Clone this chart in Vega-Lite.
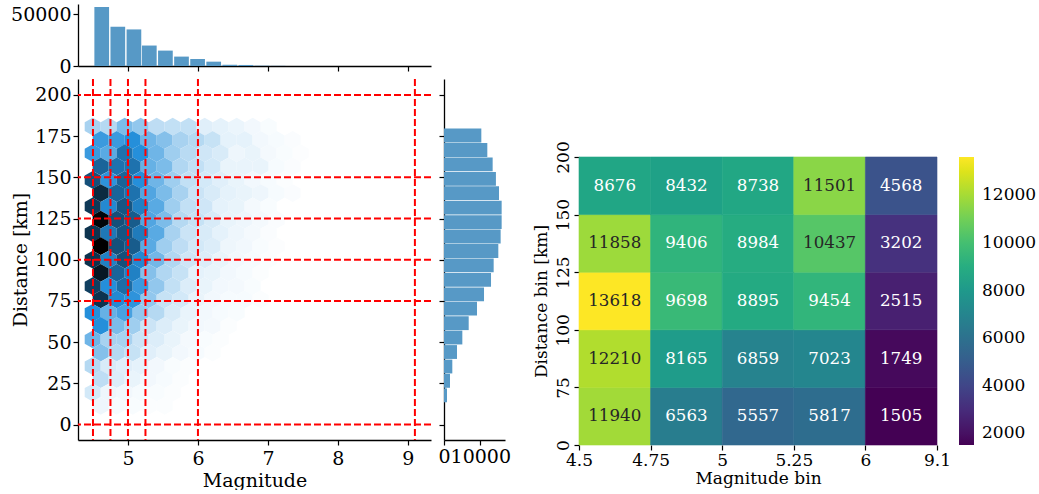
{"$schema":"https://vega.github.io/schema/vega-lite/v6.json","padding":{"left":10,"top":4,"right":0,"bottom":0},"spacing":5,"background":"white",
"config":{"font":"DejaVu Serif","view":{"stroke":null},"axis":{"grid":false,"domainColor":"#000000","tickColor":"#000000","labelColor":"#000000","titleColor":"#000000","labelFontSize":19,"titleFontSize":19,"titleFontWeight":"normal","tickSize":5,"tickWidth":1.2,"domainWidth":1.3,"labelOverlap":false,"labelFlush":false,"labelBound":false}},
"datasets":{
"magBars":[{"lo":4.52,"hi":4.73,"n":57100},{"lo":4.75,"hi":4.96,"n":38000},{"lo":4.98,"hi":5.19,"n":35400},{"lo":5.2,"hi":5.41,"n":19800},{"lo":5.43,"hi":5.64,"n":14900},{"lo":5.66,"hi":5.87,"n":9100},{"lo":5.89,"hi":6.1,"n":6800},{"lo":6.12,"hi":6.33,"n":4200},{"lo":6.35,"hi":6.56,"n":1200},{"lo":6.58,"hi":6.79,"n":1000},{"lo":6.81,"hi":7.02,"n":300},{"lo":7.04,"hi":7.25,"n":150}],
"distBars":[{"lo":171.2,"hi":179.6,"n":10280},{"lo":162.4,"hi":170.8,"n":11930},{"lo":153.7,"hi":162.1,"n":13400},{"lo":144.9,"hi":153.3,"n":14300},{"lo":136.2,"hi":144.6,"n":15150},{"lo":127.4,"hi":135.8,"n":15880},{"lo":118.6,"hi":127,"n":15880},{"lo":109.9,"hi":118.3,"n":15600},{"lo":101.1,"hi":109.5,"n":14960},{"lo":92.4,"hi":100.8,"n":13680},{"lo":83.6,"hi":92,"n":12950},{"lo":74.8,"hi":83.2,"n":11020},{"lo":66.1,"hi":74.5,"n":9090},{"lo":57.3,"hi":65.7,"n":6800},{"lo":48.6,"hi":57,"n":5050},{"lo":39.8,"hi":48.2,"n":3580},{"lo":31,"hi":39.4,"n":2290},{"lo":22.3,"hi":30.7,"n":1650},{"lo":13.5,"hi":21.9,"n":830}],
"magCuts":[{"m":4.5},{"m":4.75},{"m":5},{"m":5.25},{"m":6},{"m":9.1}],
"distCuts":[{"d":0},{"d":75},{"d":100},{"d":125},{"d":150},{"d":200}],
"hex":[
{"m":4.496,"d":180.8,"c":200},{"m":4.725,"d":180.8,"c":170},{"m":4.953,"d":180.8,"c":300},{"m":5.182,"d":180.8,"c":250},{"m":5.41,"d":180.8,"c":150},{"m":5.639,"d":180.8,"c":140},{"m":5.868,"d":180.8,"c":140},{"m":6.096,"d":180.8,"c":70},{"m":6.325,"d":180.8,"c":60},{"m":6.553,"d":180.8,"c":45},{"m":6.782,"d":180.8,"c":30},{"m":7.011,"d":180.8,"c":15},
{"m":4.61,"d":172.7,"c":450},{"m":4.839,"d":172.7,"c":450},{"m":5.067,"d":172.7,"c":500},{"m":5.296,"d":172.7,"c":330},{"m":5.524,"d":172.7,"c":280},{"m":5.753,"d":172.7,"c":200},{"m":5.982,"d":172.7,"c":170},{"m":6.21,"d":172.7,"c":130},{"m":6.439,"d":172.7,"c":60},{"m":6.667,"d":172.7,"c":60},{"m":6.896,"d":172.7,"c":30},{"m":7.125,"d":172.7,"c":20},{"m":7.353,"d":172.7,"c":12},
{"m":4.496,"d":164.7,"c":450},{"m":4.725,"d":164.7,"c":380},{"m":4.953,"d":164.7,"c":600},{"m":5.182,"d":164.7,"c":500},{"m":5.41,"d":164.7,"c":330},{"m":5.639,"d":164.7,"c":220},{"m":5.868,"d":164.7,"c":160},{"m":6.096,"d":164.7,"c":110},{"m":6.325,"d":164.7,"c":90},{"m":6.553,"d":164.7,"c":40},{"m":6.782,"d":164.7,"c":50},{"m":7.011,"d":164.7,"c":25},{"m":7.239,"d":164.7,"c":15},{"m":7.468,"d":164.7,"c":8},
{"m":4.61,"d":156.6,"c":650},{"m":4.839,"d":156.6,"c":600},{"m":5.067,"d":156.6,"c":600},{"m":5.296,"d":156.6,"c":350},{"m":5.524,"d":156.6,"c":300},{"m":5.753,"d":156.6,"c":180},{"m":5.982,"d":156.6,"c":140},{"m":6.21,"d":156.6,"c":100},{"m":6.439,"d":156.6,"c":50},{"m":6.667,"d":156.6,"c":50},{"m":6.896,"d":156.6,"c":50},{"m":7.125,"d":156.6,"c":20},{"m":7.353,"d":156.6,"c":12},
{"m":4.496,"d":148.5,"c":720},{"m":4.725,"d":148.5,"c":480},{"m":4.953,"d":148.5,"c":650},{"m":5.182,"d":148.5,"c":500},{"m":5.41,"d":148.5,"c":330},{"m":5.639,"d":148.5,"c":220},{"m":5.868,"d":148.5,"c":140},{"m":6.096,"d":148.5,"c":100},{"m":6.325,"d":148.5,"c":70},{"m":6.553,"d":148.5,"c":50},{"m":6.782,"d":148.5,"c":30},{"m":7.011,"d":148.5,"c":20},{"m":7.239,"d":148.5,"c":10},
{"m":4.61,"d":140.5,"c":850},{"m":4.839,"d":140.5,"c":650},{"m":5.067,"d":140.5,"c":600},{"m":5.296,"d":140.5,"c":400},{"m":5.524,"d":140.5,"c":300},{"m":5.753,"d":140.5,"c":200},{"m":5.982,"d":140.5,"c":120},{"m":6.21,"d":140.5,"c":90},{"m":6.439,"d":140.5,"c":60},{"m":6.667,"d":140.5,"c":50},{"m":6.896,"d":140.5,"c":40},{"m":7.125,"d":140.5,"c":20},{"m":7.353,"d":140.5,"c":12},
{"m":4.496,"d":132.4,"c":800},{"m":4.725,"d":132.4,"c":520},{"m":4.953,"d":132.4,"c":700},{"m":5.182,"d":132.4,"c":550},{"m":5.41,"d":132.4,"c":380},{"m":5.639,"d":132.4,"c":220},{"m":5.868,"d":132.4,"c":140},{"m":6.096,"d":132.4,"c":110},{"m":6.325,"d":132.4,"c":60},{"m":6.553,"d":132.4,"c":50},{"m":6.782,"d":132.4,"c":25},{"m":7.011,"d":132.4,"c":15},
{"m":4.61,"d":124.3,"c":980},{"m":4.839,"d":124.3,"c":720},{"m":5.067,"d":124.3,"c":680},{"m":5.296,"d":124.3,"c":400},{"m":5.524,"d":124.3,"c":300},{"m":5.753,"d":124.3,"c":170},{"m":5.982,"d":124.3,"c":130},{"m":6.21,"d":124.3,"c":90},{"m":6.439,"d":124.3,"c":50},{"m":6.667,"d":124.3,"c":40},{"m":6.896,"d":124.3,"c":25},{"m":7.125,"d":124.3,"c":12},
{"m":4.496,"d":116.2,"c":820},{"m":4.725,"d":116.2,"c":580},{"m":4.953,"d":116.2,"c":700},{"m":5.182,"d":116.2,"c":570},{"m":5.41,"d":116.2,"c":380},{"m":5.639,"d":116.2,"c":200},{"m":5.868,"d":116.2,"c":120},{"m":6.096,"d":116.2,"c":90},{"m":6.325,"d":116.2,"c":60},{"m":6.553,"d":116.2,"c":40},{"m":6.782,"d":116.2,"c":25},{"m":7.011,"d":116.2,"c":12},
{"m":4.61,"d":108.2,"c":1000},{"m":4.839,"d":108.2,"c":720},{"m":5.067,"d":108.2,"c":680},{"m":5.296,"d":108.2,"c":380},{"m":5.524,"d":108.2,"c":220},{"m":5.753,"d":108.2,"c":150},{"m":5.982,"d":108.2,"c":100},{"m":6.21,"d":108.2,"c":80},{"m":6.439,"d":108.2,"c":40},{"m":6.667,"d":108.2,"c":30},{"m":6.896,"d":108.2,"c":15},{"m":7.125,"d":108.2,"c":8},
{"m":4.496,"d":100.1,"c":820},{"m":4.725,"d":100.1,"c":550},{"m":4.953,"d":100.1,"c":720},{"m":5.182,"d":100.1,"c":520},{"m":5.41,"d":100.1,"c":320},{"m":5.639,"d":100.1,"c":180},{"m":5.868,"d":100.1,"c":110},{"m":6.096,"d":100.1,"c":80},{"m":6.325,"d":100.1,"c":50},{"m":6.553,"d":100.1,"c":30},{"m":6.782,"d":100.1,"c":20},{"m":7.011,"d":100.1,"c":10},
{"m":4.61,"d":92,"c":920},{"m":4.839,"d":92,"c":650},{"m":5.067,"d":92,"c":550},{"m":5.296,"d":92,"c":280},{"m":5.524,"d":92,"c":180},{"m":5.753,"d":92,"c":130},{"m":5.982,"d":92,"c":60},{"m":6.21,"d":92,"c":50},{"m":6.439,"d":92,"c":30},{"m":6.667,"d":92,"c":20},{"m":6.896,"d":92,"c":10},
{"m":4.496,"d":84,"c":780},{"m":4.725,"d":84,"c":500},{"m":4.953,"d":84,"c":620},{"m":5.182,"d":84,"c":450},{"m":5.41,"d":84,"c":250},{"m":5.639,"d":84,"c":140},{"m":5.868,"d":84,"c":80},{"m":6.096,"d":84,"c":50},{"m":6.325,"d":84,"c":30},{"m":6.553,"d":84,"c":25},{"m":6.782,"d":84,"c":15},
{"m":4.61,"d":75.9,"c":820},{"m":4.839,"d":75.9,"c":520},{"m":5.067,"d":75.9,"c":480},{"m":5.296,"d":75.9,"c":250},{"m":5.524,"d":75.9,"c":130},{"m":5.753,"d":75.9,"c":100},{"m":5.982,"d":75.9,"c":50},{"m":6.21,"d":75.9,"c":30},{"m":6.439,"d":75.9,"c":20},{"m":6.667,"d":75.9,"c":20},{"m":6.896,"d":75.9,"c":10},
{"m":4.496,"d":67.8,"c":500},{"m":4.725,"d":67.8,"c":350},{"m":4.953,"d":67.8,"c":420},{"m":5.182,"d":67.8,"c":250},{"m":5.41,"d":67.8,"c":170},{"m":5.639,"d":67.8,"c":90},{"m":5.868,"d":67.8,"c":50},{"m":6.096,"d":67.8,"c":30},{"m":6.325,"d":67.8,"c":20},{"m":6.553,"d":67.8,"c":15},
{"m":4.61,"d":59.8,"c":500},{"m":4.839,"d":59.8,"c":300},{"m":5.067,"d":59.8,"c":220},{"m":5.296,"d":59.8,"c":120},{"m":5.524,"d":59.8,"c":80},{"m":5.753,"d":59.8,"c":50},{"m":5.982,"d":59.8,"c":30},{"m":6.21,"d":59.8,"c":25},{"m":6.439,"d":59.8,"c":10},
{"m":4.496,"d":51.7,"c":330},{"m":4.725,"d":51.7,"c":200},{"m":4.953,"d":51.7,"c":200},{"m":5.182,"d":51.7,"c":120},{"m":5.41,"d":51.7,"c":80},{"m":5.639,"d":51.7,"c":50},{"m":5.868,"d":51.7,"c":25},{"m":6.096,"d":51.7,"c":15},{"m":6.325,"d":51.7,"c":10},
{"m":4.61,"d":43.6,"c":280},{"m":4.839,"d":43.6,"c":170},{"m":5.067,"d":43.6,"c":130},{"m":5.296,"d":43.6,"c":70},{"m":5.524,"d":43.6,"c":50},{"m":5.753,"d":43.6,"c":30},{"m":5.982,"d":43.6,"c":20},{"m":6.21,"d":43.6,"c":10},
{"m":4.496,"d":35.5,"c":170},{"m":4.725,"d":35.5,"c":90},{"m":4.953,"d":35.5,"c":70},{"m":5.182,"d":35.5,"c":60},{"m":5.41,"d":35.5,"c":30},{"m":5.639,"d":35.5,"c":15},{"m":5.868,"d":35.5,"c":10},
{"m":4.61,"d":27.5,"c":150},{"m":4.839,"d":27.5,"c":80},{"m":5.067,"d":27.5,"c":50},{"m":5.296,"d":27.5,"c":30},{"m":5.524,"d":27.5,"c":20},{"m":5.753,"d":27.5,"c":10},
{"m":4.496,"d":19.4,"c":100},{"m":4.725,"d":19.4,"c":40},{"m":4.953,"d":19.4,"c":30},{"m":5.182,"d":19.4,"c":20},{"m":5.41,"d":19.4,"c":15},{"m":5.639,"d":19.4,"c":10},
{"m":4.61,"d":11.3,"c":40},{"m":4.839,"d":11.3,"c":20},{"m":5.067,"d":11.3,"c":15},{"m":5.296,"d":11.3,"c":10},{"m":5.524,"d":11.3,"c":10}
],
"heat":[
{"m0":4.5,"m1":4.75,"mm":4.625,"d0":0,"d1":75,"dm":37.5,"n":11940},{"m0":4.75,"m1":5,"mm":4.875,"d0":0,"d1":75,"dm":37.5,"n":6563},{"m0":5,"m1":5.25,"mm":5.125,"d0":0,"d1":75,"dm":37.5,"n":5557},{"m0":5.25,"m1":6,"mm":5.625,"d0":0,"d1":75,"dm":37.5,"n":5817},{"m0":6,"m1":9.1,"mm":7.55,"d0":0,"d1":75,"dm":37.5,"n":1505},
{"m0":4.5,"m1":4.75,"mm":4.625,"d0":75,"d1":100,"dm":87.5,"n":12210},{"m0":4.75,"m1":5,"mm":4.875,"d0":75,"d1":100,"dm":87.5,"n":8165},{"m0":5,"m1":5.25,"mm":5.125,"d0":75,"d1":100,"dm":87.5,"n":6859},{"m0":5.25,"m1":6,"mm":5.625,"d0":75,"d1":100,"dm":87.5,"n":7023},{"m0":6,"m1":9.1,"mm":7.55,"d0":75,"d1":100,"dm":87.5,"n":1749},
{"m0":4.5,"m1":4.75,"mm":4.625,"d0":100,"d1":125,"dm":112.5,"n":13618},{"m0":4.75,"m1":5,"mm":4.875,"d0":100,"d1":125,"dm":112.5,"n":9698},{"m0":5,"m1":5.25,"mm":5.125,"d0":100,"d1":125,"dm":112.5,"n":8895},{"m0":5.25,"m1":6,"mm":5.625,"d0":100,"d1":125,"dm":112.5,"n":9454},{"m0":6,"m1":9.1,"mm":7.55,"d0":100,"d1":125,"dm":112.5,"n":2515},
{"m0":4.5,"m1":4.75,"mm":4.625,"d0":125,"d1":150,"dm":137.5,"n":11858},{"m0":4.75,"m1":5,"mm":4.875,"d0":125,"d1":150,"dm":137.5,"n":9406},{"m0":5,"m1":5.25,"mm":5.125,"d0":125,"d1":150,"dm":137.5,"n":8984},{"m0":5.25,"m1":6,"mm":5.625,"d0":125,"d1":150,"dm":137.5,"n":10437},{"m0":6,"m1":9.1,"mm":7.55,"d0":125,"d1":150,"dm":137.5,"n":3202},
{"m0":4.5,"m1":4.75,"mm":4.625,"d0":150,"d1":200,"dm":175,"n":8676},{"m0":4.75,"m1":5,"mm":4.875,"d0":150,"d1":200,"dm":175,"n":8432},{"m0":5,"m1":5.25,"mm":5.125,"d0":150,"d1":200,"dm":175,"n":8738},{"m0":5.25,"m1":6,"mm":5.625,"d0":150,"d1":200,"dm":175,"n":11501},{"m0":6,"m1":9.1,"mm":7.55,"d0":150,"d1":200,"dm":175,"n":4568}
]},
"hconcat":[
{"vconcat":[
{"width":353,"height":62,"data":{"name":"magBars"},"mark":{"type":"rect","color":"#5799c6"},
"encoding":{"x":{"field":"lo","type":"quantitative","scale":{"domain":[4.286,9.33],"nice":false,"zero":false},"axis":{"values":[5,6,7,8,9],"labels":false,"title":null}},"x2":{"field":"hi"},"y":{"field":"n","type":"quantitative","scale":{"domain":[0,60000],"nice":false},"axis":{"values":[0,50000],"format":"d","title":null}}}},
{"width":353,"height":361,"layer":[
{"data":{"name":"hex"},"mark":{"type":"point","filled":true,"opacity":1,"strokeWidth":0,"size":256,"shape":"M0,-1.11L1,-0.555L1,0.555L0,1.11L-1,0.555L-1,-0.555Z"},
"encoding":{"x":{"field":"m","type":"quantitative","scale":{"domain":[4.286,9.33],"nice":false,"zero":false},"axis":{"values":[5,6,7,8,9],"format":"d","title":"Magnitude","labelPadding":4,"titlePadding":3}},"y":{"field":"d","type":"quantitative","scale":{"domain":[-9.4,209.7],"nice":false,"zero":false},"axis":{"values":[0,25,50,75,100,125,150,175,200],"title":"Distance [km]"}},"color":{"field":"c","type":"quantitative","scale":{"domain":[0,500,1000],"range":["#ffffff","#258fda","#000000"],"interpolate":"rgb"},"legend":null}}},
{"data":{"name":"magCuts"},"mark":{"type":"rule","color":"#ff0000","strokeWidth":2,"strokeDash":[7,3]},"encoding":{"x":{"field":"m","type":"quantitative"}}},
{"data":{"name":"distCuts"},"mark":{"type":"rule","color":"#ff0000","strokeWidth":2,"strokeDash":[7,3]},"encoding":{"y":{"field":"d","type":"quantitative"}}}
]}
],"spacing":2},
{"vconcat":[
{"width":61,"height":62,"data":{"values":[{"blank":1}]},"mark":{"type":"point","opacity":0},"encoding":{}},
{"width":61,"height":361,"data":{"name":"distBars"},"mark":{"type":"rect","color":"#5799c6"},
"encoding":{"y":{"field":"lo","type":"quantitative","scale":{"domain":[-9.4,209.7],"nice":false,"zero":false},"axis":{"values":[0,25,50,75,100,125,150,175,200],"labels":false,"title":null}},"y2":{"field":"hi"},"x":{"field":"n","type":"quantitative","scale":{"domain":[0,16800],"nice":false},"axis":{"values":[0,10000],"format":"d","title":null}}}}
],"spacing":13},
{"width":10,"height":10,"data":{"values":[{"blank":1}]},"mark":{"type":"point","opacity":0},"encoding":{}},
{"vconcat":[
{"width":358,"height":123,"data":{"values":[{"blank":1}]},"mark":{"type":"point","opacity":0},"encoding":{}},
{"width":358,"height":288,"data":{"name":"heat"},"layer":[
{"mark":{"type":"rect","strokeWidth":0.6},"encoding":{"x":{"field":"m0","type":"quantitative","scale":{"domain":[4.5,4.75,5,5.25,6,9.1],"range":[0,71.6,143.2,214.8,286.4,358],"nice":false,"zero":false},"axis":{"values":[4.5,4.75,5,5.25,6,9.1],"labelExpr":"'' + datum.value","title":"Magnitude bin","domain":false,"labelFontSize":17,"titleFontSize":17,"titlePadding":2}},"x2":{"field":"m1"},"y":{"field":"d0","type":"quantitative","scale":{"domain":[0,75,100,125,150,200],"range":[288,230.4,172.8,115.2,57.6,0],"nice":false,"zero":false},"axis":{"values":[0,75,100,125,150,200],"labelExpr":"'' + datum.value","title":"Distance bin [km]","domain":false,"labelFontSize":17,"titleFontSize":17,"labelAngle":-90,"labelAlign":"center","labelBaseline":"bottom","titlePadding":4}},"y2":{"field":"d1"},
"stroke":{"field":"n","type":"quantitative","scale":{"scheme":"viridis","domain":[1505,13618]},"legend":null},
"color":{"field":"n","type":"quantitative","scale":{"scheme":"viridis","domain":[1505,13618]},"legend":{"orient":"none","legendX":380,"legendY":0,"title":null,"format":"d","gradientLength":288,"gradientThickness":15,"values":[2000,4000,6000,8000,10000,12000],"labelFontSize":17,"labelColor":"#000000","labelOffset":8,"labelOverlap":false}}}},
{"mark":{"type":"text","fontSize":16.7},"encoding":{"x":{"field":"mm","type":"quantitative"},"y":{"field":"dm","type":"quantitative"},"text":{"field":"n","type":"quantitative","format":"d"},"color":{"condition":{"test":"datum.n >= 10000","value":"#262626"},"value":"#ffffff"}}}
],"resolve":{"scale":{"color":"independent"}}}
],"spacing":13}
],"resolve":{"scale":{"x":"independent","y":"independent"}}}
